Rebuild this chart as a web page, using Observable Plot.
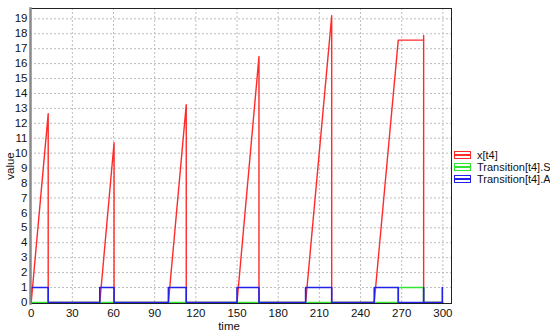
<!DOCTYPE html>
<html>
<head>
<meta charset="utf-8">
<script src="https://cdn.jsdelivr.net/npm/d3@7"></script>
<script src="https://cdn.jsdelivr.net/npm/@observablehq/plot@0.6"></script>
<style>
  html, body { margin: 0; padding: 0; background: #fff; }
  #wrap { position: relative; width: 550px; height: 334px; font-family: "Liberation Sans", Arial, sans-serif; }
  #legend { position: absolute; left: 454px; top: 149px; font-size: 11px; color: #111; }
  .row { display: flex; align-items: center; height: 12px; white-space: nowrap; }
  .sw { width: 15px; height: 6px; margin-right: 6px; position: relative; border: 1px solid; box-sizing: content-box; }
  .sw::after { content: ""; position: absolute; left: 0; right: 0; top: 2px; height: 1.5px; background: currentColor; }
  #ylabel { position: absolute; left: 10px; top: 166px; font-size: 11.5px; color: #111;
            transform: translate(-50%, -50%) rotate(-90deg); white-space: nowrap; }
</style>
</head>
<body>
<div id="wrap"><div id="chart"></div><div id="legend"></div><div id="ylabel">value</div></div>
<script>
// ---- data ----
const seriesNames = ["x[t4]", "Transition[t4].S", "Transition[t4].A"];
const seriesColors = ["#ff2b2b", "#33e633", "#2222e8"];

const redTime  = [0, 12.4, 12.4, 50, 60.4, 60.4, 100, 113, 113, 150, 166, 166, 200, 219, 219, 250, 267.5, 286, 286, 286, 300];
const redValue = [0, 12.65, 0, 0, 10.7, 0, 0, 13.25, 0, 0, 16.47, 0, 0, 19.2, 0, 0, 17.57, 17.57, 17.88, 0, 0];

const greenTime  = [0, 267.5, 267.5, 286, 286, 300];
const greenValue = [0, 0, 1, 1, 0, 0];

const blueTime  = [0, 0, 12.4, 12.4, 50, 50, 60.4, 60.4, 100, 100, 113, 113, 150, 150, 166, 166, 200, 200, 219, 219, 250, 250, 267.5, 267.5, 286, 286, 286, 299.6, 299.6];
const blueValue = [0, 1, 1, 0, 0, 1, 1, 0, 0, 1, 1, 0, 0, 1, 1, 0, 0, 1, 1, 0, 0, 1, 1, 0, 0, 1, 0, 0, 1];

const xTicks = [0, 30, 60, 90, 120, 150, 180, 210, 240, 270, 300];
const yTicks = d3.range(0, 20);
const xDomain = [-0.5, 306.3];
const yDomain = [-0.07, 19.69];

const pts = (t, v) => t.map((x, i) => ({t: x, v: v[i]}));

const plot = Plot.plot({
  width: 550,
  height: 334,
  marginLeft: 30,
  marginRight: 99,
  marginTop: 8,
  marginBottom: 31,
  style: {fontFamily: "Liberation Sans, Arial, sans-serif", fontSize: "11.5px", color: "#111", background: "#fff"},
  x: {domain: xDomain},
  y: {domain: yDomain},
  marks: [
    Plot.gridX(xTicks.slice(1), {stroke: "#bdbdbd", strokeOpacity: 1, strokeDasharray: "2,2"}),
    Plot.gridY(yTicks.slice(1), {stroke: "#bdbdbd", strokeOpacity: 1, strokeDasharray: "2,2"}),
    Plot.axisX(xTicks, {tickSize: 0, tickPadding: 5, label: null, fontSize: 11.5}),
    Plot.axisY(yTicks, {tickSize: 0, tickPadding: 3, label: null, fontSize: 11.5}),
    Plot.text(["time"], {frameAnchor: "bottom", lineAnchor: "middle", dy: 23, dx: -12, fontSize: 11.5}),
    Plot.line(pts(redTime, redValue), {x: "t", y: "v", stroke: seriesColors[0], strokeWidth: 1.4}),
    Plot.line(pts(greenTime, greenValue), {x: "t", y: "v", stroke: seriesColors[1], strokeWidth: 1.6}),
    Plot.line(pts(blueTime, blueValue), {x: "t", y: "v", stroke: seriesColors[2], strokeWidth: 1.6}),
    Plot.frame({stroke: "#222", strokeWidth: 1}),
    Plot.frame({anchor: "left", stroke: "#8a8a8a", strokeWidth: 2.5})
  ]
});
document.getElementById("chart").appendChild(plot);

const legend = d3.select("#legend");
seriesNames.forEach((name, i) => {
  const row = legend.append("div").attr("class", "row");
  row.append("span").attr("class", "sw").style("color", seriesColors[i]).style("border-color", seriesColors[i]);
  row.append("span").text(name);
});
</script>
</body>
</html>
